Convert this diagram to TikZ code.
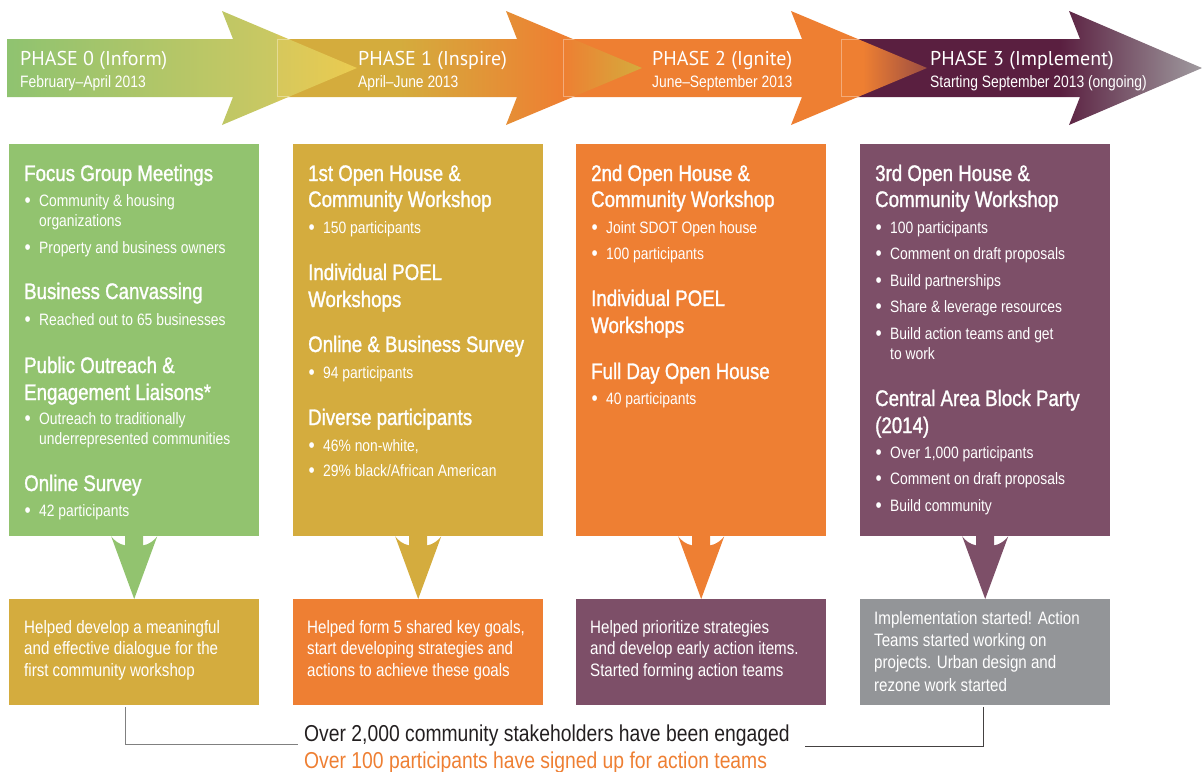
\documentclass[tikz,border=0pt]{standalone}
\usepackage{fontspec}
\setmainfont{Liberation Sans}
\newfontfamily\cond[FakeStretch=0.84]{Liberation Sans}
\newfontfamily\condh[FakeStretch=0.83,FakeBold=1.3]{Liberation Sans}
\newfontfamily\myr{PT Sans}
\usetikzlibrary{calc}
\definecolor{cgreen}{HTML}{92C36F}
\definecolor{cgold}{HTML}{D4AC3E}
\definecolor{corange}{HTML}{EE7F33}
\definecolor{cpurple}{HTML}{7D4F68}
\definecolor{cgrey}{HTML}{939598}
\definecolor{adark}{HTML}{5A1F40}
\definecolor{atipgrey}{HTML}{A09CA0}
\definecolor{atipbrown}{HTML}{9A4C42}
\definecolor{agreen}{HTML}{8FC370}
\definecolor{aygreen}{HTML}{CBC862}
\definecolor{ayellowA}{HTML}{D6C85C}
\definecolor{ayellow}{HTML}{EBCB50}
\definecolor{agold}{HTML}{D4AC3D}
\definecolor{aorange}{HTML}{EE7F32}
\definecolor{sumtext}{HTML}{231F20}
\newcommand\bu{\makebox[15pt][l]{\hspace{0.5pt}\raisebox{-0.6pt}{\fontsize{21}{21}\selectfont•}}}
\newcommand\arrowpath[3]{(#1,39) -- (#2+11,39) -- (#2,11) -- (#3,68) -- (#2,125) -- (#2+11,97) -- (#1,97) -- cycle}
\begin{document}
\begin{tikzpicture}[x=1pt,y=-1pt,
  hd/.style={anchor=base west, inner sep=0pt, text=white, font=\condh\fontsize{22.5}{27}\selectfont},
  bl/.style={anchor=base west, inner sep=0pt, text=white, font=\cond\fontsize{16.5}{20}\selectfont},
  bt/.style={anchor=base west, inner sep=0pt, text=white, font=\cond\fontsize{18}{22}\selectfont},
  ph/.style={anchor=base west, inner sep=0pt, text=white, font=\myr\fontsize{20}{24}\selectfont},
  sm/.style={anchor=base west, inner sep=0pt, font=\cond\fontsize{23}{27}\selectfont},
  pbox/.style={anchor=north west, inner sep=0pt, minimum width=250pt, minimum height=392pt},
  qbox/.style={anchor=north west, inner sep=0pt, minimum width=250pt, minimum height=106pt},
  faint/.style={draw=white, draw opacity=0.35, line width=0.7pt},
  conn/.style={line width=1pt}
]
\useasboundingbox (0,0) rectangle (1202,771);

% ---------- top arrows (right to left so each head lies on the next shaft)
\begin{scope}
  \clip \arrowpath{841}{1069}{1202};
  \fill[adark] (841,0) rectangle (1060,130);
  \shade[left color=adark, right color=atipgrey] (1060,0) rectangle (1203,130);
\end{scope}
\begin{scope}
  \clip \arrowpath{563}{791}{927};
  \fill[aorange] (563,0) rectangle (863,130);
  \shade[left color=aorange, right color=atipbrown] (863,0) rectangle (928,130);
  \draw[faint] (841,39.5) rectangle (1300,96.5);
\end{scope}
\begin{scope}
  \clip \arrowpath{277}{506}{642};
  \fill[agold] (277,0) rectangle (400,130);
  \shade[left color=agold, right color=aorange] (400,0) rectangle (563,130);
  \shade[left color=aorange, right color=agold] (563,0) rectangle (643,130);
  \draw[faint] (563,39.5) rectangle (1300,96.5);
\end{scope}
\begin{scope}
  \clip \arrowpath{7}{222}{357};
  \shade[left color=agreen, right color=aygreen] (7,0) rectangle (277,130);
  \shade[left color=ayellowA, right color=ayellow] (277,0) rectangle (358,130);
  \draw[faint] (277,39.5) rectangle (1300,96.5);
\end{scope}

\node[ph] (ph0) at (20,65) {PHASE 0 (Inform)};
\node[bl] (dt0) at (20,87.5) {February–April 2013};
\node[ph] (ph1) at (358,65) {PHASE 1 (Inspire)};
\node[bl] (dt1) at (358,87.5) {April–June 2013};
\node[ph] (ph2) at (652,65) {PHASE 2 (Ignite)};
\node[bl] (dt2) at (652,87.5) {June–September 2013};
\node[ph] (ph3) at (930,65) {PHASE 3 (Implement)};
\node[bl] (dt3) at (930,87.5) {Starting September 2013 (ongoing)};

% ---------- phase boxes
\node[pbox, fill=cgreen]  (p0) at (9,144) {};
\node[pbox, fill=cgold]   (p1) at (293,144) {};
\node[pbox, fill=corange] (p2) at (576,144) {};
\node[pbox, fill=cpurple] (p3) at (860,144) {};

% ---------- result boxes
\node[qbox, fill=cgold]   (q0) at (9,599) {};
\node[qbox, fill=corange] (q1) at (293,599) {};
\node[qbox, fill=cpurple] (q2) at (576,599) {};
\node[qbox, fill=cgrey]   (q3) at (860,599) {};

% ---------- down arrows from phase box to result box
\foreach \i/\c in {0/cgreen,1/cgold,2/corange,3/cpurple}{
  \begin{scope}[shift={(p\i.south)}]
    \fill[\c] (-9,-0.5) -- (-9,9) .. controls (-15,8) and (-20,4) .. (-23,0)
      -- (q\i.north) -- (23,0) .. controls (20,4) and (15,8) .. (9,9) -- (9,-0.5) -- cycle;
  \end{scope}
}

% ---------- box 0 text
\node[hd] (a1) at (24,181) {Focus Group Meetings};
\node[bl] (a2) at (24,206.5) {\bu Community \& housing};
\node[bl] (a3) at (39,226.5) {organizations};
\node[bl] (a4) at (24,253.5) {\bu Property and business owners};
\node[hd] (a5) at (24,299) {Business Canvassing};
\node[bl] (a6) at (24,325.5) {\bu Reached out to 65 businesses};
\node[hd] (a7) at (24,373) {Public Outreach \&};
\node[hd] (a8) at (24,400) {Engagement Liaisons*};
\node[bl] (a9) at (24,424.5) {\bu Outreach to traditionally};
\node[bl] (a10) at (39,444.5) {underrepresented communities};
\node[hd] (a11) at (24,491) {Online Survey};
\node[bl] (a12) at (24,516.5) {\bu 42 participants};

% ---------- box 1 text
\node[hd] (b1) at (308,181) {1st Open House \&};
\node[hd] (b2) at (308,207) {Community Workshop};
\node[bl] (b3) at (308,233.5) {\bu 150 participants};
\node[hd] (b4) at (308,280) {Individual POEL};
\node[hd] (b5) at (308,307) {Workshops};
\node[hd] (b6) at (308,352) {Online \& Business Survey};
\node[bl] (b7) at (308,378.5) {\bu 94 participants};
\node[hd] (b8) at (308,425) {Diverse participants};
\node[bl] (b9) at (308,451.5) {\bu 46\% non-white,};
\node[bl] (b10) at (308,476.5) {\bu 29\% black/African American};

% ---------- box 2 text
\node[hd] (c1) at (591,181) {2nd Open House \&};
\node[hd] (c2) at (591,207) {Community Workshop};
\node[bl] (c3) at (591,233.5) {\bu Joint SDOT Open house};
\node[bl] (c4) at (591,259.5) {\bu 100 participants};
\node[hd] (c5) at (591,306) {Individual POEL};
\node[hd] (c6) at (591,333) {Workshops};
\node[hd] (c7) at (591,379) {Full Day Open House};
\node[bl] (c8) at (591,404.5) {\bu 40 participants};

% ---------- box 3 text
\node[hd] (d1) at (875,181) {3rd Open House \&};
\node[hd] (d2) at (875,207) {Community Workshop};
\node[bl] (d3) at (875,233.5) {\bu 100 participants};
\node[bl] (d4) at (875,259.5) {\bu Comment on draft proposals};
\node[bl] (d5) at (875,286.5) {\bu Build partnerships};
\node[bl] (d6) at (875,312.5) {\bu Share \& leverage resources};
\node[bl] (d7) at (875,339.5) {\bu Build action teams and get};
\node[bl] (d8) at (890,359.5) {to work};
\node[hd] (d9) at (875,406) {Central Area Block Party};
\node[hd] (d10) at (875,433) {(2014)};
\node[bl] (d11) at (875,458.5) {\bu Over 1,000 participants};
\node[bl] (d12) at (875,484.5) {\bu Comment on draft proposals};
\node[bl] (d13) at (875,511.5) {\bu Build community};

% ---------- result texts
\node[bt] (e1) at (24,633) {Helped develop a meaningful};
\node[bt] (e2) at (24,654) {and effective dialogue for the};
\node[bt] (e3) at (24,676) {first community workshop};
\node[bt] (f1) at (307,633) {Helped form 5 shared key goals,};
\node[bt] (f2) at (307,654) {start developing strategies and};
\node[bt] (f3) at (307,676) {actions to achieve these goals};
\node[bt] (g1) at (590,633) {Helped prioritize strategies};
\node[bt] (g2) at (590,654) {and develop early action items.};
\node[bt] (g3) at (590,676) {Started forming action teams};
\node[bt] (h1) at (874,624) {Implementation started! Action};
\node[bt] (h2) at (874,646) {Teams started working on};
\node[bt] (h3) at (874,668) {projects. Urban design and};
\node[bt] (h4) at (874,691) {rezone work started};

% ---------- summary
\node[sm, text=sumtext] (s1) at (304,741) {Over 2,000 community stakeholders have been engaged};
\node[sm, text=corange] (s2) at (304,768) {Over 100 participants have signed up for action teams};
\coordinate (sl) at (298,744);
\coordinate (sr) at (805,746);
\draw[conn, draw=gray] ([xshift=-9pt,yshift=-2pt]q0.south) |- (sl);
\draw[conn, draw=sumtext!85] ([xshift=-2pt,yshift=-2pt]q3.south) |- (sr);
\end{tikzpicture}
\end{document}
